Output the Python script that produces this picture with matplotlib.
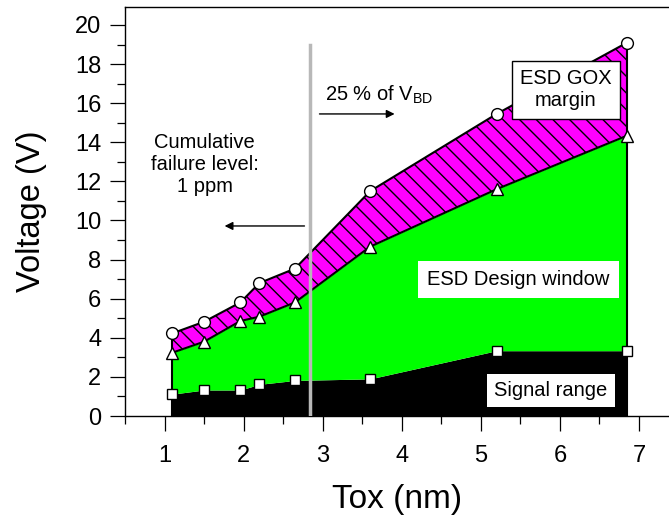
"""ESD design window vs oxide thickness -- stacked bands (signal / design window / GOX margin)."""

import matplotlib
matplotlib.use("Agg")
import matplotlib.pyplot as plt

# oxide thickness (nm) of the measured nodes
tox = [1.1, 1.5, 1.96, 2.2, 2.65, 3.6, 5.2, 6.85]
# signal range top (squares)
v_signal = [1.12, 1.33, 1.33, 1.62, 1.82, 1.9, 3.34, 3.34]
# ESD design window top (triangles)
v_design = [3.24, 3.8, 4.86, 5.08, 5.81, 8.66, 11.6, 14.34]
# 25 % of V_BD (circles)
v_gox = [4.23, 4.82, 5.81, 6.8, 7.54, 11.5, 15.45, 19.1]

x_ticks = [1, 2, 3, 4, 5, 6, 7]
y_ticks = [0, 2, 4, 6, 8, 10, 12, 14, 16, 18, 20]
x_cut = 2.835          # cumulative failure level boundary
y_cut_top = 18.98


def main():
    plt.rcParams["font.family"] = ["Liberation Sans", "DejaVu Sans"]
    fig = plt.figure(figsize=(6.69, 5.26), dpi=100)
    ax = fig.add_axes([0.1868, 0.2091, 0.8132, 0.7776])

    # bands
    ax.fill_between(tox, 0, v_signal, color="black", lw=0, zorder=1)
    ax.fill_between(tox, v_signal, v_design, color="#00ff00", lw=0, zorder=1)
    ax.fill_between(tox, v_design, v_gox, facecolor="#ff00ff", edgecolor="black",
                    hatch="\\\\", lw=0, zorder=1)

    # outlines
    ax.plot(tox, v_gox, color="black", lw=1.5, zorder=3)
    ax.plot(tox, v_design, color="black", lw=1.5, zorder=3)
    ax.plot([tox[0], tox[0]], [0, v_gox[0]], color="black", lw=1.5, zorder=3)
    ax.plot([tox[-1], tox[-1]], [0, v_gox[-1]], color="black", lw=1.5, zorder=3)

    # 1 ppm boundary
    ax.plot([x_cut, x_cut], [0, y_cut_top], color="#b8b8b8", lw=2.5, zorder=4)

    # markers
    ax.plot(tox, v_signal, ls="none", marker="s", ms=7, mfc="white", mec="black", mew=1, zorder=5)
    ax.plot(tox, v_design, ls="none", marker="^", ms=9, mfc="white", mec="black", mew=1, zorder=5)
    ax.plot(tox, v_gox, ls="none", marker="o", ms=8.5, mfc="white", mec="black", mew=1, zorder=5)

    # annotations
    ax.text(1.51, 12.84, "Cumulative\nfailure level:\n1 ppm", fontsize=14.5,
            ha="center", va="center", linespacing=1.2)
    ax.annotate("", xy=(1.76, 9.72), xytext=(2.77, 9.72),
                arrowprops=dict(arrowstyle="-|>", color="black", lw=1,
                                mutation_scale=12, shrinkA=0, shrinkB=0))
    ax.text(3.03, 16.42, r"25 % of V$_{\mathregular{BD}}$", fontsize=14.5, ha="left", va="center")
    ax.annotate("", xy=(3.91, 15.45), xytext=(2.96, 15.45),
                arrowprops=dict(arrowstyle="-|>", color="black", lw=1,
                                mutation_scale=12, shrinkA=0, shrinkB=0))

    ax.text(6.076, 16.68, "ESD GOX\nmargin", fontsize=14.5, ha="center", va="center",
            zorder=6, bbox=dict(boxstyle="square,pad=0.42", fc="white", ec="black", lw=1))
    ax.text(5.477, 6.98, "ESD Design window", fontsize=14.5, ha="center", va="center",
            zorder=6, bbox=dict(boxstyle="square,pad=0.45", fc="white", ec="none"))
    ax.text(5.886, 1.30, "Signal range", fontsize=14.5, ha="center", va="center",
            zorder=6, bbox=dict(boxstyle="square,pad=0.35", fc="white", ec="none"))

    # axes (ticks first, limits after -- minor ticks past the edge would widen the view)
    ax.set_xticks(x_ticks)
    ax.set_yticks(y_ticks)
    ax.set_xticks([v + 0.5 for v in [0] + x_ticks], minor=True)
    ax.set_yticks([v + 1 for v in y_ticks[:-1]], minor=True)
    ax.set_xlim(0.5, 7.38)
    ax.set_ylim(0, 20.92)
    ax.tick_params(which="major", direction="out", length=11, width=0.9, labelsize=17, pad=6)
    ax.tick_params(axis="x", which="major", pad=10)
    ax.tick_params(which="minor", direction="out", length=5.5, width=0.9)
    ax.spines["right"].set_visible(False)
    for s in ("left", "bottom", "top"):
        ax.spines[s].set_linewidth(1.0)

    ax.set_xlabel("Tox (nm)", fontsize=24, labelpad=12)
    ax.set_ylabel("Voltage (V)", fontsize=23.5, labelpad=20)

    fig.savefig("out.png", dpi=100)
    plt.close(fig)


if __name__ == "__main__":
    main()
